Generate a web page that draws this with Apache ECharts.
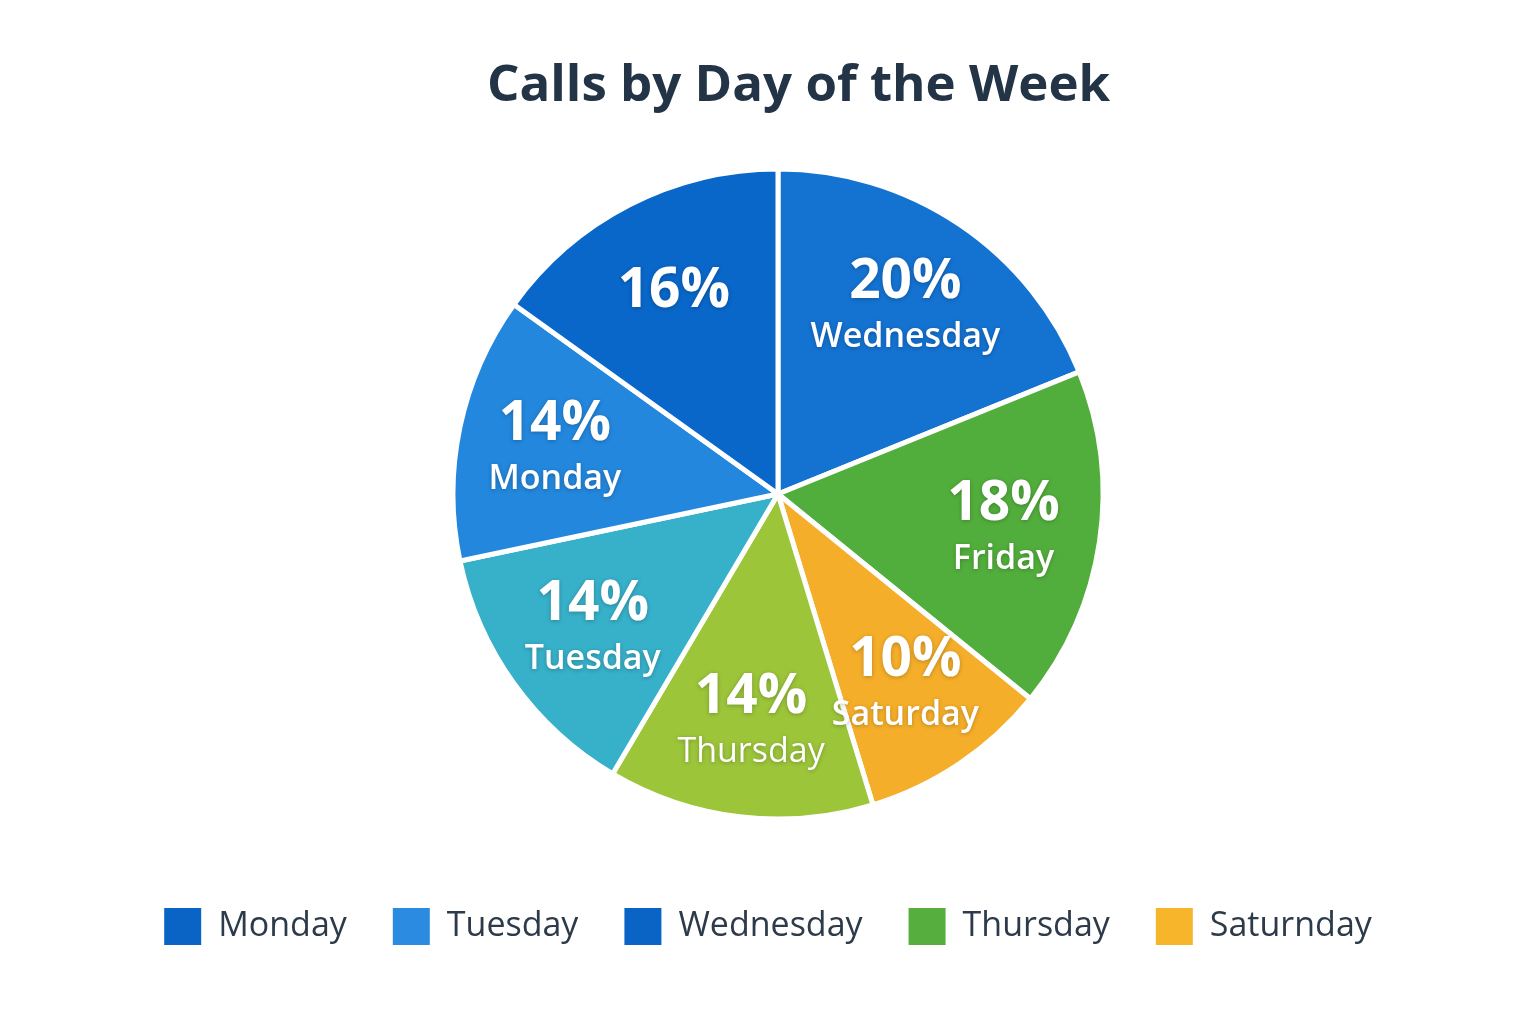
<!DOCTYPE html>
<html>
<head>
<meta charset="utf-8">
<script src="https://cdn.jsdelivr.net/npm/echarts@6/dist/echarts.min.js"></script>
<style>
  html, body { margin: 0; padding: 0; background: #ffffff; }
  #chart { width: 1536px; height: 1024px; }
</style>
</head>
<body>
<div id="chart"></div>
<script>
// ---- data (clockwise from 12 o'clock) ----
const sliceNames  = ['Wednesday', 'Friday', 'Saturday', 'Thursday', 'Tuesday', 'Monday', ''];
const sliceValues = [20, 18, 10, 14, 14, 14, 16];
const legendNames = ['Monday', 'Tuesday', 'Wednesday', 'Thursday', 'Saturnday'];
const titleText = 'Calls by Day of the Week';

// ---- styles ----
const sliceColors  = ['#1472d1', '#52ae3c', '#f5ae29', '#9cc53a', '#37b0c9', '#2387dd', '#0967c9'];
const legendColors = ['#0a64c6', '#2a8be0', '#0a64c6', '#55ae3e', '#f7b52c'];
const nameWeights  = ['600', '600', '600', 'normal', '600', '600', '600'];
const FONT = '"Open Sans", "Noto Sans", sans-serif';
const CENTER = [778, 494];
const R = 325;

const chart = echarts.init(document.getElementById('chart'), null, { renderer: 'canvas' });

const pieData = sliceNames.map((n, i) => ({
  name: n, value: sliceValues[i], itemStyle: { color: sliceColors[i] }
}));

const labelData = sliceNames.map((n, i) => ({
  name: n, value: sliceValues[i],
  label: { rich: { name: { fontWeight: nameWeights[i] } } }
}));

const option = {
  backgroundColor: '#ffffff',
  title: {
    text: titleText,
    left: 482,
    top: 56,
    textStyle: { fontFamily: FONT, fontSize: 51, fontWeight: 'bold', color: '#243447' }
  },
  legend: {
    data: legendNames,
    top: 903,
    left: 'center',
    icon: 'rect',
    itemWidth: 37,
    itemHeight: 37,
    itemGap: 46,
    selectedMode: false,
    textStyle: { fontFamily: FONT, fontSize: 34, color: '#2d3a4a', padding: [0, 0, 0, 12] }
  },
  series: [
    {
      // legend-only series (invisible)
      type: 'pie',
      center: CENTER,
      radius: [0, 0],
      silent: true,
      label: { show: false },
      labelLine: { show: false },
      data: legendNames.map((n, i) => ({ name: n, value: 1, itemStyle: { color: legendColors[i] } }))
    },
    {
      type: 'pie',
      center: CENTER,
      radius: [0, R],
      startAngle: 90,
      clockwise: true,
      silent: true,
      avoidLabelOverlap: false,
      label: { show: false },
      labelLine: { show: false },
      itemStyle: { borderColor: '#ffffff', borderWidth: 5 },
      data: pieData
    },
    {
      // transparent ring to place labels at ~0.68R
      type: 'pie',
      center: CENTER,
      radius: [125, R],
      startAngle: 90,
      clockwise: true,
      silent: true,
      avoidLabelOverlap: false,
      itemStyle: { color: 'rgba(0,0,0,0)' },
      labelLine: { show: false },
      label: {
        show: true,
        position: 'inside',
        formatter: p => p.name ? '{pct|' + p.value + '%}\n{name|' + p.name + '}' : '{pct|' + p.value + '%}',
        rich: {
          pct: {
            fontFamily: FONT, fontSize: 55, fontWeight: 'bold', color: '#ffffff', lineHeight: 64,
            textShadowColor: 'rgba(0,0,0,0.25)', textShadowBlur: 4, textShadowOffsetY: 1
          },
          name: {
            fontFamily: FONT, fontSize: 34, fontWeight: '600', color: '#ffffff', lineHeight: 46,
            textShadowColor: 'rgba(0,0,0,0.25)', textShadowBlur: 4, textShadowOffsetY: 1
          }
        }
      },
      data: labelData
    }
  ]
};

chart.setOption(option);
</script>
</body>
</html>
